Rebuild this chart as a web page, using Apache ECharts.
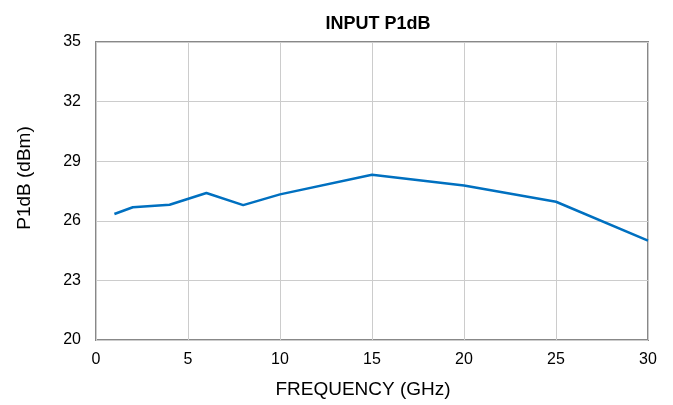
<!DOCTYPE html>
<html><head><meta charset="utf-8">
<script src="https://cdn.jsdelivr.net/npm/echarts@6/dist/echarts.min.js"></script>
<style>html,body{margin:0;padding:0;background:#fff}#c{width:673px;height:405px}</style>
</head><body><div id="c"></div>
<script>
const freqGHz = [1, 2, 4, 6, 8, 10, 15, 20, 25, 30];
const p1dB = [26.34, 26.68, 26.81, 27.40, 26.79, 27.33, 28.32, 27.78, 26.96, 25.0];
const yTicks = [20, 23, 26, 29, 32, 35];
const xTicks = [0, 5, 10, 15, 20, 25, 30];

const chart = echarts.init(document.getElementById('c'));
const font = 'Liberation Sans, Arial, sans-serif';
chart.setOption({
  animation: false,
  title: { text: 'INPUT P1dB', left: 373, top: 10, textAlign: 'center',
    textStyle: { fontFamily: font, fontSize: 18, fontWeight: 'bold', color: '#000' } },
  grid: { left: 96, right: 25, top: 42, bottom: 65, show: true, borderColor: '#888', borderWidth: 2, backgroundColor: 'transparent' },
  xAxis: { type: 'value', min: xTicks[0], max: xTicks[xTicks.length-1], interval: 5,
    name: 'FREQUENCY (GHz)', nameLocation: 'middle', nameGap: 40,
    nameTextStyle: { fontFamily: font, fontSize: 19, color: '#000', padding: [0, 18, 0, 0] },
    axisLine: { show: false }, axisTick: { show: false },
    axisLabel: { fontFamily: font, fontSize: 16, color: '#000', margin: 12 },
    splitLine: { show: true, lineStyle: { color: '#cccccc', width: 1 } } },
  yAxis: { type: 'value', min: yTicks[0], max: yTicks[yTicks.length-1], interval: 3,
    name: 'P1dB (dBm)', nameLocation: 'middle', nameGap: 62, nameRotate: 90,
    nameTextStyle: { fontFamily: font, fontSize: 19, color: '#000', padding: [0, 0, 0, 26] },
    axisLine: { show: false }, axisTick: { show: false },
    axisLabel: { fontFamily: font, fontSize: 16, color: '#000', margin: 15 },
    splitLine: { show: true, lineStyle: { color: '#cccccc', width: 1 } } },
  series: [{ type: 'line', data: freqGHz.map((f, i) => [f, p1dB[i]]), showSymbol: false,
    lineStyle: { color: '#0070c0', width: 2.5 }, z: 5 }]
});
</script></body></html>
